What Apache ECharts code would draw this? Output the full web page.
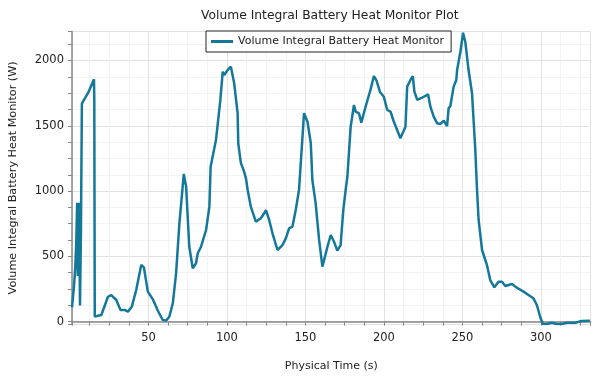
<!DOCTYPE html>
<html>
<head>
<meta charset="utf-8">
<script src="https://cdn.jsdelivr.net/npm/echarts@6/dist/echarts.min.js"></script>
<style>
  html, body { margin: 0; padding: 0; background: #fff; }
  #chart { width: 597px; height: 377px; }
</style>
</head>
<body>
<div id="chart"></div>
<script>
// physical time (s)
const times = [
  1.3, 2.5, 3.4, 4.0, 4.6, 5.0, 5.6, 6.0, 6.4, 7.0, 7.6, 9.0, 11.5, 15.3, 15.5, 15.8, 16.8,
  20.0, 24.2, 26.3, 29.5, 32.2, 34.8, 36.9, 39.4, 42.2, 45.4, 47.1, 49.6, 52.8,
  56.0, 59.1, 61.2, 63.3, 65.5, 67.6, 69.7, 71.8, 72.5, 73.5, 74.0, 76.0, 78.2,
  80.3, 81.4, 83.5, 84.6, 86.7, 88.8, 89.6, 93.0, 95.8, 97.3, 98.3, 100.4, 102.5,
  103.6, 104.6, 106.8, 107.2, 108.9, 110.6, 112.1, 113.2, 115.2, 118.4, 121.6,
  123.7, 124.8, 126.9, 129.0, 132.2, 135.4, 137.5, 139.6, 141.7, 143.8, 145.9,
  149.1, 151.3, 153.4, 154.4, 156.5, 158.7, 160.8, 161.8, 164.0, 166.1, 168.2,
  170.3, 172.4, 174.1, 175.6, 176.7, 178.8, 180.9, 182.0, 184.1, 185.6, 188.3,
  191.5, 192.6, 193.6, 195.3, 196.4, 197.4, 199.9, 202.1, 204.2, 206.3, 208.4,
  210.5, 211.6, 213.7, 214.8, 216.9, 218.4, 219.4, 221.2, 224.3, 228.1, 229.6,
  231.7, 233.9, 236.0, 238.1, 240.2, 241.2, 242.3, 244.4, 246.1, 246.6, 248.7,
  250.4, 251.8, 253.9, 256.1, 258.2, 259.3, 260.3, 262.5, 265.6, 267.7, 270.3,
  273.0, 275.2, 277.3, 279.4, 281.5, 284.7, 288.9, 292.1, 295.2, 297.4, 299.5,
  301.2, 303.8, 306.9, 310.1, 313.3, 316.5, 321.7, 325.9, 331.2
];
// Volume Integral Battery Heat Monitor (W)
const heat = [
  110, 260, 420, 600, 910, 350, 910, 600, 125, 700, 1670, 1700, 1750, 1856, 1700, 40, 26,
  51, 191, 204, 166, 90, 90, 77, 115, 243, 434, 416, 230, 171,
  84, 13, 8, 38, 141, 370, 753, 1034, 1131, 1123, 1034, 574, 409,
  447, 524, 574, 587, 702, 881, 1187, 1391, 1698, 1914, 1889, 1927, 1953,
  1953, 1825, 1596, 1366, 1213, 1162, 1098, 1008, 881, 766, 792,
  830, 855, 779, 677, 549, 587, 638, 715, 727, 855, 1008,
  1597, 1531, 1366, 1085, 906, 626, 421, 416, 574, 664, 612,
  544, 587, 855, 1008, 1110, 1493, 1659, 1608, 1596, 1524, 1646,
  1779, 1779, 1881, 1845, 1851, 1761, 1723, 1621, 1608, 1531, 1468,
  1404, 1397, 1493, 1800, 1851, 1881, 1761, 1698, 1715, 1741, 1646,
  1570, 1519, 1514, 1539, 1498, 1634, 1652, 1800, 1851, 1927, 2067,
  2213, 2144, 1927, 1749, 1315, 1008, 779, 549, 434, 319, 263,
  306, 306, 273, 281, 289, 260, 230, 204, 179, 128, 38,
  -18, -18, -8, -18, -18, -8, -8, 5, 8
];

const chart = echarts.init(document.getElementById('chart'))

const font = 'DejaVu Sans'
const lineColor = '#14789b'

const option = {
  animation: false,
  title: {
    text: 'Volume Integral Battery Heat Monitor Plot',
    left: 196,
    top: 5,
    textStyle: { fontFamily: font, fontSize: 12.3, fontWeight: 'normal', color: '#222' }
  },
  legend: {
    data: ['Volume Integral Battery Heat Monitor'],
    left: 206,
    top: 31,
    padding: [5, 7, 5, 5],
    borderColor: '#222',
    borderWidth: 1,
    backgroundColor: '#fff',
    icon: 'rect',
    itemWidth: 22,
    itemHeight: 3,
    itemGap: 5,
    textStyle: { fontFamily: font, fontSize: 11, color: '#222' }
  },
  grid: {
    left: 70.7,
    right: 6.3,
    top: 31.5,
    bottom: 52.7,
    containLabel: false
  },
  xAxis: {
    type: 'value',
    min: 1.3,
    max: 331.7,
    minInterval: 50,
    maxInterval: 50,
    name: 'Physical Time (s)',
    nameLocation: 'middle',
    nameGap: 36,
    nameTextStyle: { fontFamily: font, fontSize: 11, color: '#222' },
    axisLine: { show: true, lineStyle: { color: '#888', width: 1.5 } },
    axisTick: { show: true, inside: false, length: 4, lineStyle: { color: '#888' } },
    minorTick: { show: true, splitNumber: 4, length: 4, lineStyle: { color: '#888' } },
    axisLabel: {
      showMinLabel: false,
      showMaxLabel: false,
      fontFamily: font,
      fontSize: 11.5,
      color: '#222',
      margin: 8
    },
    splitLine: { show: true, lineStyle: { color: '#e2e2e2', width: 1 } },
    minorSplitLine: { show: true, lineStyle: { color: '#f3f3f3', width: 1 } }
  },
  yAxis: {
    type: 'value',
    min: -20,
    max: 2222,
    minInterval: 500,
    maxInterval: 500,
    name: 'Volume Integral Battery Heat Monitor (W)',
    nameLocation: 'middle',
    nameGap: 53,
    nameTextStyle: { fontFamily: font, fontSize: 11.2, color: '#222' },
    axisLine: { show: true, lineStyle: { color: '#888', width: 1.5 } },
    axisTick: { show: true, inside: false, length: 4, lineStyle: { color: '#888' } },
    minorTick: { show: true, splitNumber: 4, length: 4, lineStyle: { color: '#888' } },
    axisLabel: {
      showMinLabel: false,
      showMaxLabel: false,
      fontFamily: font,
      fontSize: 11.5,
      color: '#222',
      margin: 8,
      formatter: v => String(v)
    },
    splitLine: { show: true, lineStyle: { color: '#e2e2e2', width: 1 } },
    minorSplitLine: { show: true, lineStyle: { color: '#f3f3f3', width: 1 } }
  },
  series: [
    {
      name: 'Volume Integral Battery Heat Monitor',
      type: 'line',
      data: times.map((t, i) => [t, heat[i]]),
      showSymbol: false,
      symbol: 'none',
      itemStyle: { color: lineColor },
      lineStyle: { color: lineColor, width: 2.5 }
    }
  ]
}

chart.setOption(option)
</script>
</body>
</html>
